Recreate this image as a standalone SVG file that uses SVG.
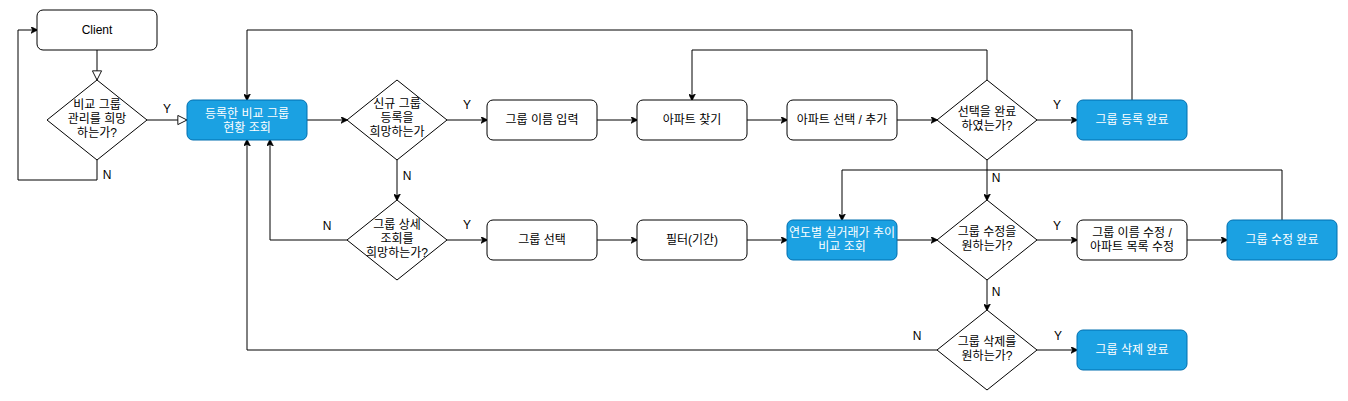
<svg xmlns="http://www.w3.org/2000/svg" width="1348" height="401" viewBox="0 0 1348 401">
<style>
text{font-family:"Liberation Sans","Noto Sans CJK KR",Arial,sans-serif;font-size:12px;text-anchor:middle;dominant-baseline:central;fill:#000}
.box{fill:#fff;stroke:#000;stroke-width:1}
.blue{fill:#1ba1e2;stroke:#006eaf;stroke-width:1}
.wt{fill:#fff}
.dia{fill:#fff;stroke:#000;stroke-width:1}
.e{fill:none;stroke:#000;stroke-width:1}
.ea{fill:none;stroke:#000;stroke-width:1;marker-end:url(#arr)}
.eo{fill:none;stroke:#000;stroke-width:1;marker-end:url(#open)}
</style>
<defs>
<marker id="arr" viewBox="0 0 10 10" refX="9" refY="5" markerWidth="7" markerHeight="7" markerUnits="userSpaceOnUse" orient="auto"><path d="M0,0 L10,5 L0,10 L3,5 Z" fill="#000" stroke="#000" stroke-width="1"/></marker>
<marker id="open" viewBox="0 0 12 12" refX="11" refY="6" markerWidth="11" markerHeight="11" markerUnits="userSpaceOnUse" orient="auto"><path d="M1,1 L11,6 L1,11 Z" fill="#fff" stroke="#000" stroke-width="1"/></marker>
</defs>
<rect width="1348" height="401" fill="#fff"/>
<g id="connectors">
<path class="eo" d="M97,50 V80"/>
<path class="ea" d="M97,160 V180 H18 V30 H37"/>
<path class="eo" d="M147,120 H187"/>
<path class="ea" d="M307,120 H347"/>
<path class="ea" d="M447,120 H487"/>
<path class="ea" d="M597,120 H637"/>
<path class="ea" d="M747,120 H787"/>
<path class="ea" d="M897,120 H937"/>
<path class="ea" d="M1037,120 H1077"/>
<path class="ea" d="M987,80 V50 H692 V100"/>
<path class="ea" d="M1132,100 V30 H247 V100"/>
<path class="ea" d="M397,160 V200"/>
<path class="ea" d="M347,240 H270 V140"/>
<path class="ea" d="M447,240 H487"/>
<path class="ea" d="M597,240 H637"/>
<path class="ea" d="M747,240 H787"/>
<path class="ea" d="M897,240 H937"/>
<path class="ea" d="M1037,240 H1077"/>
<path class="ea" d="M1187,240 H1227"/>
<path class="ea" d="M987,160 V200"/>
<path class="ea" d="M1282,220 V170 H842 V220"/>
<path class="ea" d="M987,280 V310"/>
<path class="ea" d="M1037,350 H1077"/>
<path class="ea" d="M937,350 H247 V140"/>
<text x="167" y="109">Y</text>
<text x="107" y="175">N</text>
<text x="467" y="105">Y</text>
<text x="407" y="176">N</text>
<text x="327" y="226">N</text>
<text x="467" y="225">Y</text>
<text x="1057" y="105">Y</text>
<text x="996" y="178">N</text>
<text x="1057" y="226">Y</text>
<text x="996" y="292">N</text>
<text x="917" y="336">N</text>
<text x="1058" y="336">Y</text>
</g>
<g id="client"><rect class="box" x="37" y="10" width="120" height="40" rx="6"/><text x="97" y="30">Client</text></g>
<g id="d1"><path class="dia" d="M97,80 L147,120 L97,160 L47,120 Z"/><text x="97" y="105">비교 그룹</text><text x="97" y="119">관리를 희망</text><text x="97" y="133">하는가?</text></g>
<g id="b1"><rect class="blue" x="187" y="100" width="120" height="40" rx="6"/><text class="wt" x="247" y="114">등록한 비교 그룹</text><text class="wt" x="247" y="128">현황 조회</text></g>
<g id="d2"><path class="dia" d="M397,80 L447,120 L397,160 L347,120 Z"/><text x="397" y="104">신규 그룹</text><text x="397" y="118">등록을</text><text x="397" y="132">희망하는가</text></g>
<g id="n1"><rect class="box" x="487" y="100" width="110" height="40" rx="6"/><text x="542" y="120">그룹 이름 입력</text></g>
<g id="n2"><rect class="box" x="637" y="100" width="110" height="40" rx="6"/><text x="692" y="120">아파트 찾기</text></g>
<g id="n3"><rect class="box" x="787" y="100" width="110" height="40" rx="6"/><text x="842" y="120">아파트 선택 / 추가</text></g>
<g id="d3"><path class="dia" d="M987,80 L1037,120 L987,160 L937,120 Z"/><text x="987" y="112">선택을 완료</text><text x="987" y="126">하였는가?</text></g>
<g id="b2"><rect class="blue" x="1077" y="100" width="110" height="40" rx="6"/><text class="wt" x="1132" y="120">그룹 등록 완료</text></g>
<g id="d4"><path class="dia" d="M397,200 L447,240 L397,280 L347,240 Z"/><text x="397" y="225">그룹 상세</text><text x="397" y="239">조회를</text><text x="397" y="253">희망하는가?</text></g>
<g id="n4"><rect class="box" x="487" y="220" width="110" height="40" rx="6"/><text x="542" y="240">그룹 선택</text></g>
<g id="n5"><rect class="box" x="637" y="220" width="110" height="40" rx="6"/><text x="692" y="240">필터(기간)</text></g>
<g id="b3"><rect class="blue" x="787" y="220" width="110" height="40" rx="6"/><text class="wt" x="842" y="233">연도별 실거래가 추이</text><text class="wt" x="842" y="247">비교 조회</text></g>
<g id="d5"><path class="dia" d="M987,200 L1037,240 L987,280 L937,240 Z"/><text x="987" y="232">그룹 수정을</text><text x="987" y="246">원하는가?</text></g>
<g id="n6"><rect class="box" x="1077" y="220" width="110" height="40" rx="6"/><text x="1132" y="233">그룹 이름 수정 /</text><text x="1132" y="247">아파트 목록 수정</text></g>
<g id="b4"><rect class="blue" x="1227" y="220" width="110" height="40" rx="6"/><text class="wt" x="1282" y="240">그룹 수정 완료</text></g>
<g id="d6"><path class="dia" d="M987,310 L1037,350 L987,390 L937,350 Z"/><text x="987" y="342">그룹 삭제를</text><text x="987" y="356">원하는가?</text></g>
<g id="b5"><rect class="blue" x="1077" y="330" width="110" height="40" rx="6"/><text class="wt" x="1132" y="350">그룹 삭제 완료</text></g>
</svg>
